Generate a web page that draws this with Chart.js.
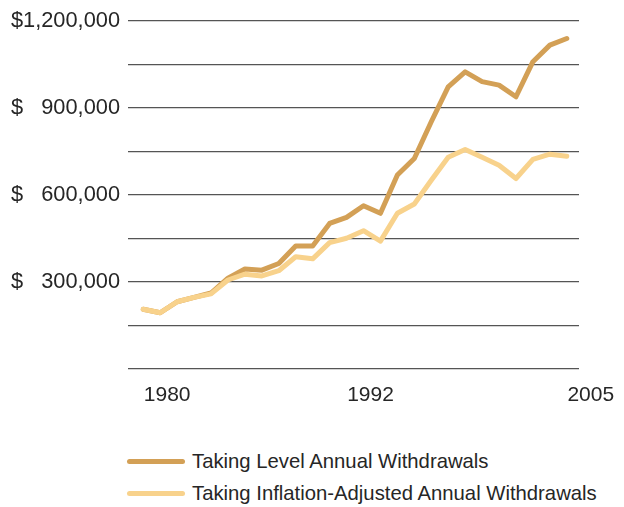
<!DOCTYPE html>
<html>
<head>
<meta charset="utf-8">
<script src="https://cdn.jsdelivr.net/npm/chart.js@4"></script>
<style>
    html, body { margin: 0; padding: 0; background: #fff; }
    body { width: 624px; height: 507px; position: relative; overflow: hidden; font-family: "Liberation Sans", Arial, sans-serif; }
    #wrap { position: absolute; left: 0; top: 0; width: 624px; height: 410px; }
    .legend { position: absolute; left: 127px; top: 445px; color: #262626; font-size: 20.3px; }
    .legend .item { display: flex; align-items: center; height: 32.5px; }
    .legend .swatch { width: 58px; height: 5px; border-radius: 3px; margin-right: 7px; }
</style>
</head>
<body>
<div id="wrap"><canvas id="chart"></canvas></div>
<div class="legend" id="legend"></div>
<script>
// Years and portfolio values (dollars)
var years = [1979, 1980, 1981, 1982, 1983, 1984, 1985, 1986, 1987, 1988, 1989, 1990, 1991,
             1992, 1993, 1994, 1995, 1996, 1997, 1998, 1999, 2000, 2001, 2002, 2003, 2004];
var levelValues = [206000, 194000, 232000, 247000, 262000, 313000, 345000, 341000, 364000, 424000, 424000, 502000, 523000,
                   563000, 537000, 669000, 726000, 853000, 973000, 1025000, 991000, 979000, 939000, 1060000, 1117000, 1140000];
var inflationValues = [206000, 194000, 232000, 247000, 259000, 307000, 327000, 321000, 339000, 387000, 380000, 436000, 451000,
                       477000, 441000, 537000, 569000, 651000, 730000, 757000, 730000, 703000, 657000, 723000, 741000, 734000];
var xTickYears = [1980, 1992, 2005];
var seriesNames = ['Taking Level Annual Withdrawals', 'Taking Inflation-Adjusted Annual Withdrawals'];
var seriesColors = ['#D3A056', '#F8D28C'];

function toPoints(vals) {
    return years.map(function(y, i) { return { x: y, y: vals[i] }; });
}

function money(v) {
    var s = v.toLocaleString('en-US');
    // pad so the dollar signs line up like the original
    return v >= 1000000 ? '$' + s : '$   ' + s;
}

var font = { family: '"Liberation Sans", Arial, sans-serif', size: 21 };

new Chart(document.getElementById('chart'), {
    type: 'line',
    data: {
        datasets: [
            { label: seriesNames[0], data: toPoints(levelValues), borderColor: seriesColors[0], order: 2 },
            { label: seriesNames[1], data: toPoints(inflationValues), borderColor: seriesColors[1], order: 1 }
        ]
    },
    options: {
        responsive: true,
        maintainAspectRatio: false,
        animation: false,
        layout: { padding: { top: 21, right: 45, left: 0, bottom: 0 } },
        elements: {
            line: { borderWidth: 5, tension: 0, borderJoinStyle: 'round', borderCapStyle: 'round', fill: false },
            point: { radius: 0 }
        },
        scales: {
            x: {
                type: 'linear',
                min: 1978.1,
                max: 2004.72,
                afterBuildTicks: function(s) { s.ticks = xTickYears.map(function(v) { return { value: v }; }); },
                afterFit: function(s) { s.height = 41; },
                grid: { display: false },
                border: { display: false },
                ticks: {
                    autoSkip: false,
                    maxRotation: 0,
                    labelOffset: 7,
                    padding: 6,
                    color: '#262626',
                    font: font,
                    callback: function(v) { return String(v); }
                }
            },
            y: {
                min: 0,
                max: 1200000,
                afterFit: function(s) { s.width = 128; },
                grid: { color: '#555555', lineWidth: 1.3, drawTicks: false },
                border: { display: false },
                ticks: {
                    stepSize: 150000,
                    padding: 8,
                    color: '#262626',
                    font: { family: font.family, size: 21.8 },
                    callback: function(v) { return (v > 0 && v % 300000 === 0) ? money(v) : ''; }
                }
            }
        },
        plugins: {
            legend: { display: false },
            tooltip: { enabled: false }
        }
    }
});

// legend, stacked like the original
var legendHtml = '';
for (var i = 0; i < seriesNames.length; i++) {
    legendHtml += '<div class="item"><span class="swatch" style="background:' + seriesColors[i] + '"></span>' + seriesNames[i] + '</div>';
}
document.getElementById('legend').innerHTML = legendHtml;
</script>
</body>
</html>
